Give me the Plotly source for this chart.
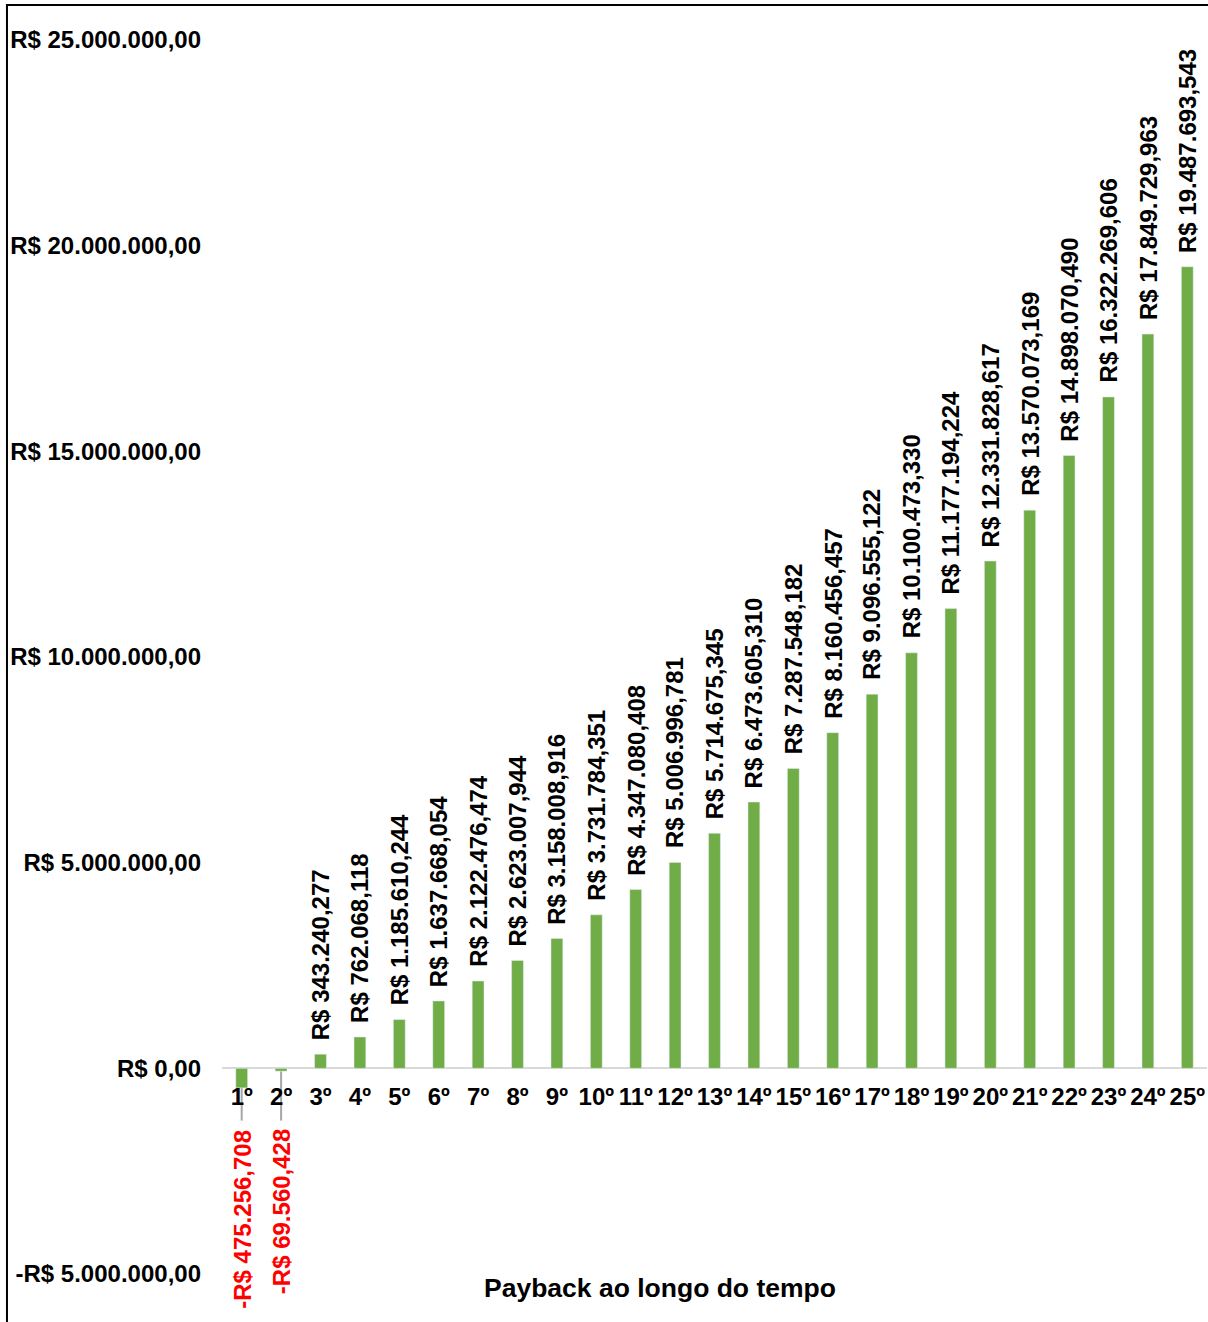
import plotly.graph_objects as go

categories = [f"{i}º" for i in range(1, 26)]
payback = [
    -475256.708, -69560.428, 343240.277, 762068.118, 1185610.244,
    1637668.054, 2122476.474, 2623007.944, 3158008.916, 3731784.351,
    4347080.408, 5006996.781, 5714675.345, 6473605.310, 7287548.182,
    8160456.457, 9096555.122, 10100473.330, 11177194.224, 12331828.617,
    13570073.169, 14898070.490, 16322269.606, 17849729.963, 19487693.543,
]
tick_vals = [-5e6, 0, 5e6, 10e6, 15e6, 20e6, 25e6]
tick_text = ["-R$ 5.000.000,00", "R$ 0,00", "R$ 5.000.000,00", "R$ 10.000.000,00",
             "R$ 15.000.000,00", "R$ 20.000.000,00", "R$ 25.000.000,00"]
title_text = "Payback ao longo do tempo"


def brl(v):
    s = f"{abs(v):,.3f}".replace(",", "X").replace(".", ",").replace("X", ".")
    return ("-R$ " if v < 0 else "R$ ") + s


FONT = "Liberation Sans, Arial, sans-serif"
GREEN = "#70AD47"
FS = 24

fig = go.Figure()
fig.add_trace(go.Bar(
    x=categories, y=payback, marker_color=GREEN, width=0.3,
    hoverinfo="x+y",
))

annotations = []
shapes = []
for i, (c, v) in enumerate(zip(categories, payback)):
    if v >= 0:
        annotations.append(dict(
            x=c, y=v, xref="x", yref="y", text=brl(v), showarrow=False,
            textangle=-90, yanchor="bottom", xanchor="center", yshift=12,
            font=dict(family=FONT, size=FS, color="black", weight="bold"),
        ))
    else:
        annotations.append(dict(
            x=c, y=-1.44e6, xref="x", yref="y", text=brl(v), showarrow=False,
            textangle=-90, yanchor="top", xanchor="center",
            font=dict(family=FONT, size=FS, color="#FF0000", weight="bold"),
        ))
        shapes.append(dict(
            type="line", xref="x", yref="y", x0=i, x1=i, y0=v, y1=-1.27e6,
            line=dict(color="#A6A6A6", width=2), layer="below",
        ))

annotations.append(dict(
    x=0.4447, y=-0.0114, xref="paper", yref="paper", text=title_text,
    showarrow=False, xanchor="center", yanchor="middle",
    font=dict(family=FONT, size=26.5, color="black", weight="bold"),
))

shapes.append(dict(
    type="rect", xref="paper", yref="paper", x0=-0.2183, x1=1.02, y0=-0.2, y1=1.0284,
    line=dict(color="black", width=2), fillcolor="rgba(0,0,0,0)", layer="above",
))

fig.update_layout(
    width=1208, height=1322,
    margin=dict(l=222, r=1, t=40, b=48),
    paper_bgcolor="white", plot_bgcolor="white",
    showlegend=False,
    annotations=annotations, shapes=shapes,
    bargap=0.7,
    xaxis=dict(
        type="category", anchor="free", position=0.1669,
        showgrid=False, showline=False, zeroline=False, ticks="",
        tickfont=dict(family=FONT, size=FS, color="black", weight="bold"),
        ticklabelstandoff=12,
    ),
    yaxis=dict(
        range=[-5e6, 25e6], tickvals=tick_vals, ticktext=tick_text,
        showgrid=False, showline=False, zeroline=True,
        zerolinecolor="#D9D9D9", zerolinewidth=2, ticks="",
        tickfont=dict(family=FONT, size=FS, color="black", weight="bold"),
        ticklabelstandoff=20,
    ),
)

fig.write_html("out.html")
